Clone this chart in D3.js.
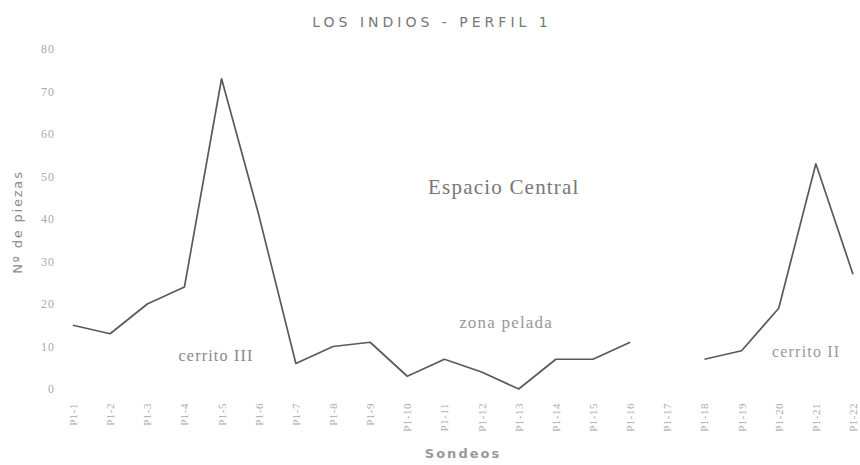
<!DOCTYPE html>
<html>
<head>
<meta charset="utf-8">
<script src="https://cdn.jsdelivr.net/npm/d3@7"></script>
<style>
  html, body { margin: 0; padding: 0; background: #fff; }
  svg { display: block; }
</style>
</head>
<body>
<svg id="chart" width="860" height="465"></svg>
<script>
const categories = ["P1-1","P1-2","P1-3","P1-4","P1-5","P1-6","P1-7","P1-8","P1-9","P1-10","P1-11",
  "P1-12","P1-13","P1-14","P1-15","P1-16","P1-17","P1-18","P1-19","P1-20","P1-21","P1-22"];
const piezas = [15, 13, 20, 24, 73, 41, 6, 10, 11, 3, 7, 4, 0, 7, 7, 11, null, 7, 9, 19, 53, 27];
const yTicks = [0, 10, 20, 30, 40, 50, 60, 70, 80];
// annotation anchor: position along the category axis (index) and value
const annotationTexts = ["Espacio Central", "zona pelada", "cerrito III", "cerrito II"];
const annotationIndex = [11.6, 11.66, 3.85, 19.74];
const annotationValue = [46, 14.4, 6.6, 7.5];

const svg = d3.select("#chart");
const mLeft = 73, mRight = 853, mTop = 49, mBottom = 389;

const x = d3.scalePoint().domain(categories).range([mLeft, mRight]);
const xIdx = d3.scaleLinear().domain([0, categories.length - 1]).range([mLeft, mRight]);
const y = d3.scaleLinear().domain([0, 80]).range([mBottom, mTop]);

// Title
svg.append("text")
  .attr("x", 432).attr("y", 27)
  .attr("text-anchor", "middle")
  .attr("font-family", "DejaVu Sans, Verdana, sans-serif")
  .attr("font-size", 14)
  .attr("letter-spacing", 4)
  .attr("fill", "#777")
  .text("LOS INDIOS - PERFIL 1");

// Y axis
const yAxis = d3.axisLeft(y).tickValues(yTicks).tickSize(0).tickPadding(0);
const yg = svg.append("g").attr("transform", `translate(55,0)`).call(yAxis);
yg.select(".domain").remove();
yg.selectAll("text")
  .attr("font-family", "Liberation Serif, serif")
  .attr("font-size", 12)
  .attr("letter-spacing", 1)
  .attr("fill", "#aaa");

// X axis
const xAxis = d3.axisBottom(x).tickSize(0).tickPadding(0);
const xg = svg.append("g").attr("transform", `translate(0,403)`).call(xAxis);
xg.select(".domain").remove();
xg.selectAll("text")
  .attr("transform", "rotate(-90)")
  .attr("text-anchor", "end")
  .attr("dy", "0.32em")
  .attr("dx", 0)
  .attr("y", 0)
  .attr("font-family", "Liberation Serif, serif")
  .attr("font-size", 11)
  .attr("letter-spacing", 0.5)
  .attr("fill", "#aaa");

// Axis titles
svg.append("text")
  .attr("transform", "translate(22,222) rotate(-90)")
  .attr("text-anchor", "middle")
  .attr("font-family", "DejaVu Sans, Verdana, sans-serif")
  .attr("font-size", 13)
  .attr("letter-spacing", 1.8)
  .attr("fill", "#888")
  .text("Nº de piezas");

svg.append("text")
  .attr("x", 463).attr("y", 458)
  .attr("text-anchor", "middle")
  .attr("font-family", "DejaVu Sans, Verdana, sans-serif")
  .attr("font-size", 13)
  .attr("font-weight", "bold")
  .attr("letter-spacing", 2)
  .attr("fill", "#999")
  .text("Sondeos");

// Line
const line = d3.line()
  .defined(d => d.v !== null)
  .x(d => x(d.c))
  .y(d => y(d.v));
const data = categories.map((c, i) => ({ c, v: piezas[i] }));
svg.append("path")
  .datum(data)
  .attr("d", line)
  .attr("fill", "none")
  .attr("stroke", "#5a5a5a")
  .attr("stroke-width", 1.7)
  .attr("stroke-linejoin", "round");

// Annotations
const annSizes = [21, 17, 16, 16];
const annFill = ["#777", "#999", "#888", "#999"];
svg.selectAll("text.ann")
  .data(annotationTexts.map((t, i) => ({ t, i })))
  .join("text")
  .attr("class", "ann")
  .attr("x", d => xIdx(annotationIndex[d.i]))
  .attr("y", d => y(annotationValue[d.i]))
  .attr("text-anchor", "middle")
  .attr("font-family", "Liberation Serif, serif")
  .attr("font-size", d => annSizes[d.i])
  .attr("letter-spacing", 1.2)
  .attr("fill", d => annFill[d.i])
  .text(d => d.t);
</script>
</body>
</html>
